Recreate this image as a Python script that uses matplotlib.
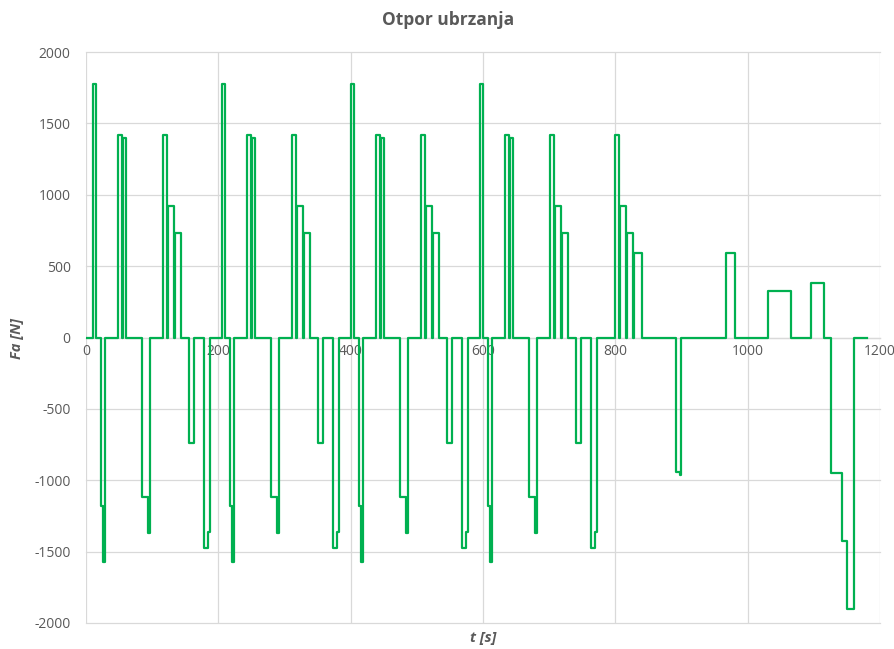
import numpy as np
import matplotlib
matplotlib.use('Agg')
import matplotlib.pyplot as plt

plt.rcParams['font.family'] = ['Open Sans', 'DejaVu Sans']
plt.rcParams['axes.unicode_minus'] = False

# one ECE-15 urban cycle (195 s), repeated four times
ece_t = [0, 11, 15, 23, 25, 28, 49, 54, 56, 61, 85, 93, 96, 117, 122, 124,
         133, 135, 143, 155, 163, 178, 185, 188]
ece_fa = [0, 1775, 0, -1183, -1574, 0, 1418, 0, 1399, 0, -1118, -1367, 0,
          1418, 0, 919, 0, 735, 0, -741, 0, -1473, -1365, 0]
ece_period = 195
ece_count = 4

# extra-urban part (EUDC)
eudc_t = [780, 800, 805, 807, 816, 818, 826, 828, 841, 891, 898, 899, 968,
          981, 1031, 1066, 1096, 1116, 1126, 1142, 1150, 1160, 1180]
eudc_fa = [0, 1418, 0, 919, 0, 735, 0, 595, 0, -941, -960, 0, 595, 0, 325,
           0, 383, 0, -946, -1425, -1900, 0, 0]

t = []
fa = []
for k in range(ece_count):
    t += [x + k * ece_period for x in ece_t]
    fa += ece_fa
t += eudc_t
fa += eudc_fa

x_ticks = [0, 200, 400, 600, 800, 1000, 1200]
y_ticks = [-2000, -1500, -1000, -500, 0, 500, 1000, 1500, 2000]

grey = '#595959'
grid = '#D9D9D9'

fig = plt.figure(figsize=(8.95, 6.49), dpi=100)
ax = fig.add_axes([86 / 895, 26 / 649, 794 / 895, 571 / 649])

ax.plot(t, fa, drawstyle='steps-post', color='#00B050', lw=1.6, zorder=3)

ax.set_xlim(0, 1200)
ax.set_ylim(-2000, 2000)
ax.set_xticks(x_ticks)
ax.set_yticks(y_ticks)
ax.grid(True, color=grid, lw=0.9, zorder=0)
for g in ax.get_xgridlines() + ax.get_ygridlines():
    g.set_clip_on(False)

for s in ['top', 'right', 'left']:
    ax.spines[s].set_visible(False)
ax.spines['bottom'].set_position(('data', 0))
ax.spines['bottom'].set_color(grid)
ax.spines['bottom'].set_linewidth(0.9)
ax.spines['bottom'].set_zorder(1)

ax.tick_params(axis='x', length=0, pad=5, labelsize=10, labelcolor=grey)
ax.tick_params(axis='y', length=0, pad=11, labelsize=10, labelcolor=grey)

fig.text(448 / 895, 1 - 20 / 649, 'Otpor ubrzanja', ha='center', va='center',
         fontsize=12.5, fontweight='bold', color=grey)
fig.text(17 / 895, 1 - 338 / 649, 'Fa [N]', ha='center', va='center',
         rotation=90, fontsize=10.5, fontweight='bold', fontstyle='italic', color=grey)
fig.text(483 / 895, 1 - 638 / 649, 't [s]', ha='center', va='center',
         fontsize=10.5, fontweight='bold', fontstyle='italic', color=grey)

plt.savefig('out.png', dpi=100)
